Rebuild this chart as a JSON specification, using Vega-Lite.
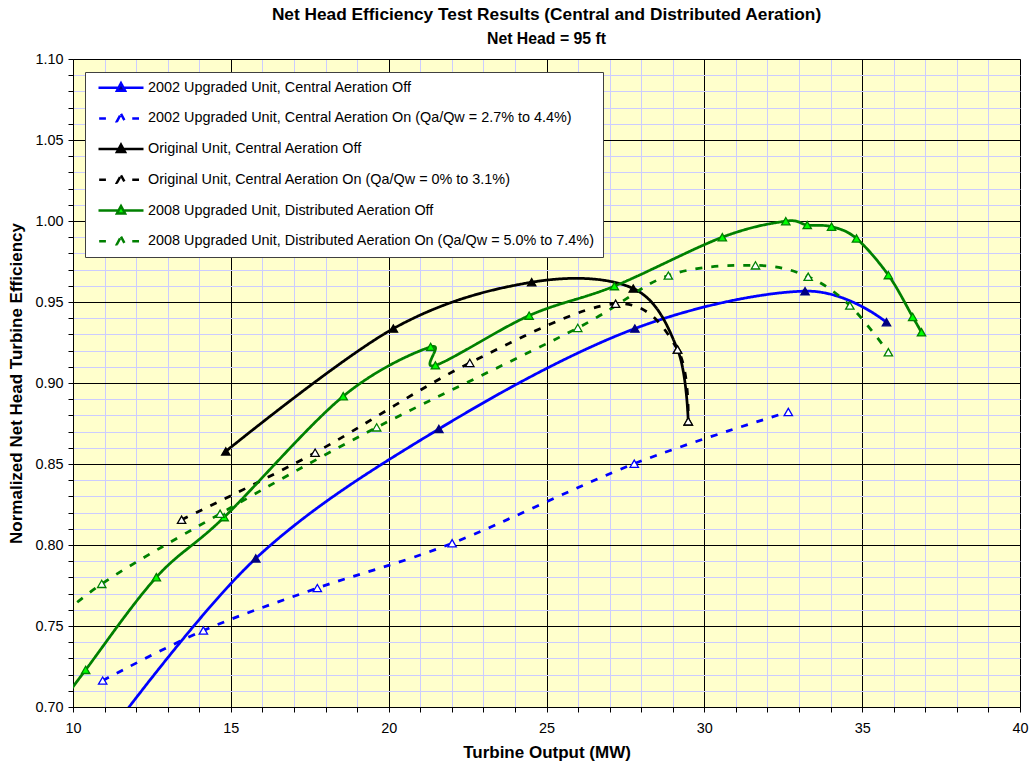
{
  "$schema": "https://vega.github.io/schema/vega-lite/v6.json",
  "width": 947,
  "height": 648,
  "autosize": {"type": "none"},
  "padding": {"left": 73, "top": 59, "right": 9, "bottom": 59},
  "background": "white",
  "config": {
    "font": "Liberation Sans",
    "view": {"fill": "#ffffcc", "stroke": "#808080", "strokeWidth": 1}
  },
  "title": {
    "text": "Net Head Efficiency Test Results (Central and Distributed Aeration)",
    "subtitle": "Net Head = 95 ft",
    "font": "Liberation Sans",
    "subtitleFont": "Liberation Sans",
    "fontSize": 17.3,
    "fontWeight": "bold",
    "color": "black",
    "subtitleFontSize": 15.8,
    "subtitleFontWeight": "bold",
    "subtitleColor": "black",
    "anchor": "middle",
    "frame": "group",
    "offset": 4,
    "subtitlePadding": 9
  },
  "data": {
    "values": [
      {"series": "2002 Upgraded Unit, Central Aeration Off", "x": 11.0, "y": 0.680},
      {"series": "2002 Upgraded Unit, Central Aeration Off", "x": 15.79, "y": 0.7917},
      {"series": "2002 Upgraded Unit, Central Aeration Off", "x": 21.59, "y": 0.8716},
      {"series": "2002 Upgraded Unit, Central Aeration Off", "x": 27.80, "y": 0.9336},
      {"series": "2002 Upgraded Unit, Central Aeration Off", "x": 33.19, "y": 0.9567},
      {"series": "2002 Upgraded Unit, Central Aeration Off", "x": 35.77, "y": 0.9375},

      {"series": "2002 Upgraded Unit, Central Aeration On (Qa/Qw = 2.7% to 4.4%)", "x": 10.94, "y": 0.7163},
      {"series": "2002 Upgraded Unit, Central Aeration On (Qa/Qw = 2.7% to 4.4%)", "x": 14.13, "y": 0.7472},
      {"series": "2002 Upgraded Unit, Central Aeration On (Qa/Qw = 2.7% to 4.4%)", "x": 17.74, "y": 0.7734},
      {"series": "2002 Upgraded Unit, Central Aeration On (Qa/Qw = 2.7% to 4.4%)", "x": 22.01, "y": 0.8011},
      {"series": "2002 Upgraded Unit, Central Aeration On (Qa/Qw = 2.7% to 4.4%)", "x": 27.78, "y": 0.8502},
      {"series": "2002 Upgraded Unit, Central Aeration On (Qa/Qw = 2.7% to 4.4%)", "x": 32.66, "y": 0.8821},

      {"series": "Original Unit, Central Aeration Off", "x": 14.84, "y": 0.8578},
      {"series": "Original Unit, Central Aeration Off", "x": 20.15, "y": 0.9336},
      {"series": "Original Unit, Central Aeration Off", "x": 24.53, "y": 0.9622},
      {"series": "Original Unit, Central Aeration Off", "x": 27.75, "y": 0.9583},
      {"series": "Original Unit, Central Aeration Off", "x": 29.15, "y": 0.9207},
      {"series": "Original Unit, Central Aeration Off", "x": 29.49, "y": 0.8763},

      {"series": "Original Unit, Central Aeration On (Qa/Qw = 0% to 3.1%)", "x": 13.44, "y": 0.8156},
      {"series": "Original Unit, Central Aeration On (Qa/Qw = 0% to 3.1%)", "x": 17.67, "y": 0.8570},
      {"series": "Original Unit, Central Aeration On (Qa/Qw = 0% to 3.1%)", "x": 22.57, "y": 0.9124},
      {"series": "Original Unit, Central Aeration On (Qa/Qw = 0% to 3.1%)", "x": 27.19, "y": 0.9489},
      {"series": "Original Unit, Central Aeration On (Qa/Qw = 0% to 3.1%)", "x": 29.15, "y": 0.9207},
      {"series": "Original Unit, Central Aeration On (Qa/Qw = 0% to 3.1%)", "x": 29.49, "y": 0.8763},

      {"series": "2008 Upgraded Unit, Distributed Aeration Off", "x": 9.5, "y": 0.699},
      {"series": "2008 Upgraded Unit, Distributed Aeration Off", "x": 10.40, "y": 0.7229},
      {"series": "2008 Upgraded Unit, Distributed Aeration Off", "x": 12.64, "y": 0.7801},
      {"series": "2008 Upgraded Unit, Distributed Aeration Off", "x": 14.79, "y": 0.8172},
      {"series": "2008 Upgraded Unit, Distributed Aeration Off", "x": 18.56, "y": 0.8918},
      {"series": "2008 Upgraded Unit, Distributed Aeration Off", "x": 21.33, "y": 0.9223},
      {"series": "2008 Upgraded Unit, Distributed Aeration Off", "x": 21.48, "y": 0.9109},
      {"series": "2008 Upgraded Unit, Distributed Aeration Off", "x": 24.45, "y": 0.9416},
      {"series": "2008 Upgraded Unit, Distributed Aeration Off", "x": 27.15, "y": 0.9598},
      {"series": "2008 Upgraded Unit, Distributed Aeration Off", "x": 30.57, "y": 0.9900},
      {"series": "2008 Upgraded Unit, Distributed Aeration Off", "x": 32.58, "y": 0.9999},
      {"series": "2008 Upgraded Unit, Distributed Aeration Off", "x": 33.26, "y": 0.9975},
      {"series": "2008 Upgraded Unit, Distributed Aeration Off", "x": 34.03, "y": 0.9965},
      {"series": "2008 Upgraded Unit, Distributed Aeration Off", "x": 34.82, "y": 0.9892},
      {"series": "2008 Upgraded Unit, Distributed Aeration Off", "x": 35.83, "y": 0.9666},
      {"series": "2008 Upgraded Unit, Distributed Aeration Off", "x": 36.60, "y": 0.9408},
      {"series": "2008 Upgraded Unit, Distributed Aeration Off", "x": 36.88, "y": 0.9313},

      {"series": "2008 Upgraded Unit, Distributed Aeration On (Qa/Qw = 5.0% to 7.4%)", "x": 9.0, "y": 0.745},
      {"series": "2008 Upgraded Unit, Distributed Aeration On (Qa/Qw = 5.0% to 7.4%)", "x": 10.91, "y": 0.7760},
      {"series": "2008 Upgraded Unit, Distributed Aeration On (Qa/Qw = 5.0% to 7.4%)", "x": 14.66, "y": 0.8193},
      {"series": "2008 Upgraded Unit, Distributed Aeration On (Qa/Qw = 5.0% to 7.4%)", "x": 19.62, "y": 0.8726},
      {"series": "2008 Upgraded Unit, Distributed Aeration On (Qa/Qw = 5.0% to 7.4%)", "x": 25.99, "y": 0.9340},
      {"series": "2008 Upgraded Unit, Distributed Aeration On (Qa/Qw = 5.0% to 7.4%)", "x": 28.86, "y": 0.9663},
      {"series": "2008 Upgraded Unit, Distributed Aeration On (Qa/Qw = 5.0% to 7.4%)", "x": 31.62, "y": 0.9726},
      {"series": "2008 Upgraded Unit, Distributed Aeration On (Qa/Qw = 5.0% to 7.4%)", "x": 33.29, "y": 0.9656},
      {"series": "2008 Upgraded Unit, Distributed Aeration On (Qa/Qw = 5.0% to 7.4%)", "x": 34.61, "y": 0.9478},
      {"series": "2008 Upgraded Unit, Distributed Aeration On (Qa/Qw = 5.0% to 7.4%)", "x": 35.83, "y": 0.9190}
    ]
  },
  "encoding": {
    "x": {
      "field": "x",
      "type": "quantitative",
      "scale": {"domain": [10, 40], "nice": false, "zero": false},
      "axis": {
        "title": "Turbine Output (MW)",
        "values": [10, 11, 12, 13, 14, 15, 16, 17, 18, 19, 20, 21, 22, 23, 24, 25, 26, 27, 28, 29, 30, 31, 32, 33, 34, 35, 36, 37, 38, 39, 40],
        "grid": true,
        "gridColor": {"condition": {"test": "datum.value % 5 === 0", "value": "#000000"}, "value": "#ccccff"},
        "gridWidth": 1,
        "labelExpr": "datum.value % 5 === 0 ? datum.label : ''",
        "labelOverlap": false,
        "labelFlush": false,
        "labelFont": "Liberation Sans",
        "labelFontSize": 14.4,
        "labelColor": "black",
        "labelPadding": 9,
        "tickSize": 5,
        "tickColor": "black",
        "domainColor": "black",
        "titleFont": "Liberation Sans",
        "titleFontSize": 17,
        "titleFontWeight": "bold",
        "titleColor": "black",
        "titlePadding": 10
      }
    },
    "y": {
      "field": "y",
      "type": "quantitative",
      "scale": {"domain": [0.70, 1.10], "nice": false, "zero": false},
      "axis": {
        "title": "Normalized Net Head Turbine Efficiency",
        "values": [0.70, 0.71, 0.72, 0.73, 0.74, 0.75, 0.76, 0.77, 0.78, 0.79, 0.80, 0.81, 0.82, 0.83, 0.84, 0.85, 0.86, 0.87, 0.88, 0.89, 0.90, 0.91, 0.92, 0.93, 0.94, 0.95, 0.96, 0.97, 0.98, 0.99, 1.00, 1.01, 1.02, 1.03, 1.04, 1.05, 1.06, 1.07, 1.08, 1.09, 1.10],
        "grid": true,
        "gridColor": {"condition": {"test": "round(datum.value * 100) % 5 === 0", "value": "#000000"}, "value": "#ccccff"},
        "gridWidth": 1,
        "labelExpr": "round(datum.value * 100) % 5 === 0 ? format(datum.value, '.2f') : ''",
        "labelOverlap": false,
        "labelFlush": false,
        "labelFont": "Liberation Sans",
        "labelFontSize": 14.4,
        "labelColor": "black",
        "labelPadding": 5,
        "tickSize": 5,
        "tickColor": "black",
        "domainColor": "black",
        "titleFont": "Liberation Sans",
        "titleFontSize": 17,
        "titleFontWeight": "bold",
        "titleColor": "black",
        "titlePadding": 9
      }
    }
  },
  "layer": [
    {
      "mark": {"type": "line", "interpolate": "cardinal", "tension": 0, "strokeWidth": 2.75, "clip": true},
      "encoding": {
        "color": {
          "field": "series",
          "type": "nominal",
          "scale": {
            "domain": [
              "2002 Upgraded Unit, Central Aeration Off",
              "2002 Upgraded Unit, Central Aeration On (Qa/Qw = 2.7% to 4.4%)",
              "Original Unit, Central Aeration Off",
              "Original Unit, Central Aeration On (Qa/Qw = 0% to 3.1%)",
              "2008 Upgraded Unit, Distributed Aeration Off",
              "2008 Upgraded Unit, Distributed Aeration On (Qa/Qw = 5.0% to 7.4%)"
            ],
            "range": ["#0000ff", "#0000ff", "#000000", "#000000", "#008000", "#008000"]
          },
          "legend": {
            "title": null,
            "orient": "none",
            "legendX": 12,
            "legendY": 13,
            "direction": "vertical",
            "fillColor": "white",
            "strokeColor": "#404040",
            "padding": 8,
            "symbolOffset": 4,
            "symbolSize": 2025,
            "symbolType": "M-1,0H-0.1M0.1,0H1M0,-0.2L0.18,0.13L-0.18,0.13Z",
            "symbolStrokeWidth": 2,
            "clipHeight": 15.4,
            "rowPadding": 13.7,
            "labelFont": "Liberation Sans",
            "labelFontSize": 14.4,
            "labelColor": "black",
            "labelOffset": 3,
            "labelLimit": 0,
            "encode": {
              "symbols": {
                "update": {
                  "shape": {"signal": "indexof(datum.value, 'On (') >= 0 ? 'M-0.97,0H-0.67M0.5,0H0.8M0,-0.2L0.18,0.13L-0.18,0.13Z' : 'M-1,0H-0.1M0.1,0H1M0,-0.2L0.18,0.13L-0.18,0.13Z'"},
                  "fill": {"signal": "indexof(datum.value, 'On (') >= 0 ? 'white' : indexof(datum.value, '2002') === 0 ? '#000080' : indexof(datum.value, '2008') === 0 ? '#00ff00' : 'black'"},
                  "stroke": {"signal": "indexof(datum.value, '2002') === 0 ? '#0000ff' : indexof(datum.value, '2008') === 0 ? '#008000' : 'black'"},
                  "strokeWidth": {"value": 2.5},
                  "strokeDash": {"value": [1, 0]},
                  "opacity": {"value": 1},
                  "fillOpacity": {"value": 1}
                }
              }
            }
          }
        },
        "strokeDash": {
          "field": "series",
          "type": "nominal",
          "scale": {
            "domain": [
              "2002 Upgraded Unit, Central Aeration Off",
              "2002 Upgraded Unit, Central Aeration On (Qa/Qw = 2.7% to 4.4%)",
              "Original Unit, Central Aeration Off",
              "Original Unit, Central Aeration On (Qa/Qw = 0% to 3.1%)",
              "2008 Upgraded Unit, Distributed Aeration Off",
              "2008 Upgraded Unit, Distributed Aeration On (Qa/Qw = 5.0% to 7.4%)"
            ],
            "range": [[1, 0], [7, 9], [1, 0], [7, 9], [1, 0], [7, 9]]
          },
          "legend": null
        }
      }
    },
    {
      "mark": {"type": "point", "shape": "triangle-up", "filled": true, "size": 70, "strokeWidth": 1.3, "opacity": 1, "clip": true},
      "encoding": {
        "fill": {
          "field": "series",
          "type": "nominal",
          "scale": {
            "domain": [
              "2002 Upgraded Unit, Central Aeration Off",
              "2002 Upgraded Unit, Central Aeration On (Qa/Qw = 2.7% to 4.4%)",
              "Original Unit, Central Aeration Off",
              "Original Unit, Central Aeration On (Qa/Qw = 0% to 3.1%)",
              "2008 Upgraded Unit, Distributed Aeration Off",
              "2008 Upgraded Unit, Distributed Aeration On (Qa/Qw = 5.0% to 7.4%)"
            ],
            "range": ["#000080", "#ffffff", "#000000", "#ffffff", "#00ff00", "#ffffff"]
          },
          "legend": null
        },
        "stroke": {
          "field": "series",
          "type": "nominal",
          "scale": {
            "domain": [
              "2002 Upgraded Unit, Central Aeration Off",
              "2002 Upgraded Unit, Central Aeration On (Qa/Qw = 2.7% to 4.4%)",
              "Original Unit, Central Aeration Off",
              "Original Unit, Central Aeration On (Qa/Qw = 0% to 3.1%)",
              "2008 Upgraded Unit, Distributed Aeration Off",
              "2008 Upgraded Unit, Distributed Aeration On (Qa/Qw = 5.0% to 7.4%)"
            ],
            "range": ["#000080", "#0000ff", "#000000", "#000000", "#008000", "#008000"]
          },
          "legend": null
        }
      }
    }
  ]
}
